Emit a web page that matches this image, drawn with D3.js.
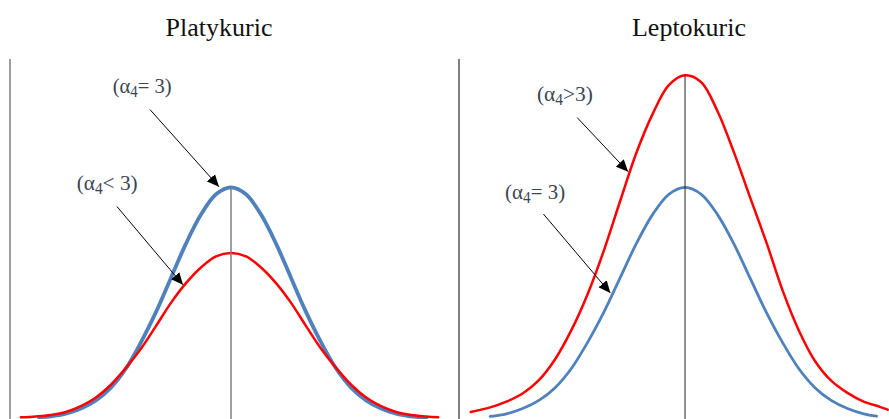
<!DOCTYPE html>
<html>
<head>
<meta charset="utf-8">
<script src="https://cdn.jsdelivr.net/npm/d3@7"></script>
<style>
  body { margin: 0; background: #fff; }
  svg { display: block; }
</style>
</head>
<body>
<div id="chart"></div>
<script>
// panel titles
var panelTitles = ["Platykuric", "Leptokuric"];

// left panel (platykurtic) - blue normal vs red flatter curve
var platyBlueX = [-3.2, -3, -2.75, -2.5, -2.25, -2, -1.75, -1.5, -1.25, -1, -0.75, -0.5, -0.25, 0, 0.25, 0.5, 0.75, 1, 1.25, 1.5, 1.75, 2, 2.25, 2.5, 2.75, 3, 3.25];
var platyBlueY = [0.003, 0.0045, 0.009, 0.018, 0.032, 0.054, 0.087, 0.132, 0.184, 0.243, 0.302, 0.352, 0.387, 0.399, 0.387, 0.352, 0.302, 0.243, 0.184, 0.132, 0.087, 0.054, 0.032, 0.018, 0.009, 0.0045, 0.002];
var platyRedX = [-3.5, -3.25, -3, -2.75, -2.5, -2.25, -2, -1.75, -1.5, -1.25, -1, -0.75, -0.5, -0.25, 0, 0.25, 0.5, 0.75, 1, 1.25, 1.5, 1.75, 2, 2.25, 2.5, 2.75, 3, 3.25, 3.45];
var platyRedY = [0.003, 0.0045, 0.007, 0.012, 0.022, 0.037, 0.059, 0.088, 0.121, 0.160, 0.200, 0.234, 0.261, 0.280, 0.286, 0.280, 0.261, 0.234, 0.200, 0.160, 0.121, 0.088, 0.059, 0.037, 0.022, 0.012, 0.007, 0.0045, 0.003];

// right panel (leptokurtic) - blue normal vs red peaked curve
var leptoBlueX = [-3, -2.75, -2.5, -2.25, -2, -1.75, -1.5, -1.25, -1, -0.75, -0.5, -0.25, 0, 0.25, 0.5, 0.75, 1, 1.25, 1.5, 1.75, 2, 2.25, 2.5, 2.75, 2.95];
var leptoBlueY = [0.0045, 0.009, 0.018, 0.032, 0.054, 0.087, 0.132, 0.184, 0.243, 0.302, 0.352, 0.387, 0.399, 0.387, 0.352, 0.302, 0.243, 0.184, 0.132, 0.087, 0.054, 0.032, 0.018, 0.009, 0.005];
var leptoRedX = [-3.3, -3, -2.75, -2.5, -2.25, -2, -1.75, -1.5, -1.25, -1, -0.75, -0.5, -0.25, 0, 0.25, 0.5, 0.75, 1, 1.25, 1.5, 1.75, 2, 2.25, 2.5, 2.75, 3, 3.12];
var leptoRedY = [0.012, 0.020, 0.030, 0.044, 0.067, 0.103, 0.153, 0.215, 0.290, 0.375, 0.458, 0.525, 0.575, 0.592, 0.580, 0.530, 0.460, 0.382, 0.305, 0.222, 0.153, 0.100, 0.066, 0.045, 0.030, 0.021, 0.016];

// annotation labels
var platyLabels = ["= 3)", "< 3)"];
var leptoLabels = [">3)", "= 3)"];

var W = 889, H = 419;

var svg = d3.select("#chart").append("svg")
    .attr("width", W)
    .attr("height", H);

svg.append("defs").append("marker")
    .attr("id", "arrow")
    .attr("markerUnits", "userSpaceOnUse")
    .attr("markerWidth", 12)
    .attr("markerHeight", 12)
    .attr("viewBox", "0 -5 10 10")
    .attr("refX", 10)
    .attr("refY", 0)
    .attr("orient", "auto")
  .append("path")
    .attr("d", "M0,-4.5L10,0L0,4.5Z")
    .attr("fill", "#000");

var y = d3.scaleLinear().domain([0, 0.62]).range([419, 59]);

function pairs(xs, ys) {
  return xs.map(function(d, i) { return [d, ys[i]]; });
}

function drawPanel(opt) {
  var x = d3.scaleLinear().domain(opt.domain).range(opt.range);
  var g = svg.append("g");

  var line = d3.line()
      .x(function(d) { return x(d[0]); })
      .y(function(d) { return y(d[1]); })
      .curve(d3.curveCatmullRom);

  // left axis line
  g.append("line")
      .attr("x1", x.range()[0]).attr("x2", x.range()[0])
      .attr("y1", y.range()[1]).attr("y2", H)
      .attr("stroke", opt.axisColor)
      .attr("stroke-width", 1.5);

  // series
  opt.series.forEach(function(s) {
    g.append("path")
        .datum(pairs(s.x, s.y))
        .attr("d", line)
        .attr("fill", "none")
        .attr("stroke", s.color)
        .attr("stroke-width", s.width)
        .attr("stroke-linejoin", "round")
        .attr("stroke-linecap", "round");
  });

  // center line from the highest peak down
  var peak = d3.max(opt.series, function(s) { return d3.max(s.y); });
  g.append("line")
      .attr("x1", x(0)).attr("x2", x(0))
      .attr("y1", y(peak)).attr("y2", H)
      .attr("stroke", opt.centerColor)
      .attr("stroke-width", opt.centerWidth);

  // title
  svg.append("text")
      .attr("x", opt.titleX)
      .attr("y", 36)
      .attr("text-anchor", "middle")
      .style("font-family", "'Liberation Serif', 'Times New Roman', serif")
      .style("font-size", "26px")
      .style("fill", "#111")
      .text(opt.title);

  // annotations (condensed serif text + arrow)
  opt.notes.forEach(function(n) {
    var t = g.append("text")
        .style("font-family", "'Liberation Serif', 'Times New Roman', serif")
        .style("font-size", "22px")
        .style("fill", "#3a4455");
    t.append("tspan").text("(\u03b1");
    t.append("tspan").attr("dy", 4).style("font-size", "16px").text("4");
    t.append("tspan").attr("dy", -4).text(n.label);
    var w = t.node().getComputedTextLength();
    t.attr("transform", "translate(" + x(n.tx) + "," + y(n.ty) + ") scale(" + (n.w / w) + ",1)");

    g.append("line")
        .attr("x1", x(n.fromX)).attr("y1", y(n.fromY))
        .attr("x2", x(n.toX)).attr("y2", y(n.toY))
        .attr("stroke", "#000")
        .attr("stroke-width", 1)
        .attr("marker-end", "url(#arrow)");
  });
}

drawPanel({
  title: panelTitles[0],
  titleX: 219,
  domain: [-3.68, 3.68],
  range: [10, 452],
  axisColor: "#7f7f7f",
  centerColor: "#7f7f7f",
  centerWidth: 1.5,
  series: [
    {x: platyBlueX, y: platyBlueY, color: "#4f81bd", width: 3.8},
    {x: platyRedX, y: platyRedY, color: "#ff0000", width: 2.5}
  ],
  notes: [
    {label: platyLabels[0], w: 59, tx: -1.97, ty: 0.562, fromX: -1.35, fromY: 0.533, toX: -0.2, toY: 0.40},
    {label: platyLabels[1], w: 61, tx: -2.57, ty: 0.395, fromX: -1.9, fromY: 0.366, toX: -0.8, toY: 0.231}
  ]
});

drawPanel({
  title: panelTitles[1],
  titleX: 689,
  domain: [-3.48, 3.14],
  range: [459, 889],
  axisColor: "#555",
  centerColor: "#222",
  centerWidth: 1,
  series: [
    {x: leptoRedX, y: leptoRedY, color: "#ff0000", width: 2.5},
    {x: leptoBlueX, y: leptoBlueY, color: "#4f81bd", width: 2.8}
  ],
  notes: [
    {label: leptoLabels[0], w: 56, tx: -2.28, ty: 0.547, fromX: -1.66, fromY: 0.519, toX: -0.877, toY: 0.426},
    {label: leptoLabels[1], w: 60, tx: -2.77, ty: 0.379, fromX: -2.18, fromY: 0.353, toX: -1.15, toY: 0.217}
  ]
});
</script>
</body>
</html>
